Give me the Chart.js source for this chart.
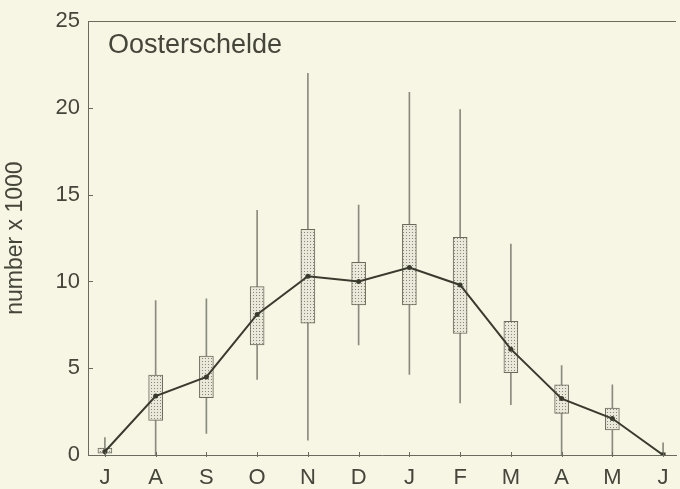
<!DOCTYPE html>
<html>
<head>
<meta charset="utf-8">
<script src="https://cdn.jsdelivr.net/npm/chart.js@4.4.0/dist/chart.umd.min.js"></script>
<style>
  html, body { margin: 0; padding: 0; background: #f7f6e5; }
  #wrap { width: 680px; height: 489px; }
</style>
</head>
<body>
<div id="wrap"><canvas id="c" width="680" height="489"></canvas></div>
<script>
// ---- data ----
const months    = ['J','A','S','O','N','D','J','F','M','A','M','J'];
const meanVals  = [0.2, 3.4, 4.5, 8.1, 10.3, 10.0, 10.8, 9.8, 6.1, 3.25, 2.1, 0];
const boxLow    = [0.1, 2.0, 3.3, 6.35, 7.6, 8.65, 8.65, 7.0, 4.75, 2.4, 1.45, null];
const boxHigh   = [0.4, 4.6, 5.7, 9.7, 13.0, 11.1, 13.3, 12.55, 7.7, 4.05, 2.7, null];
const whiskLow  = [0, 0, 1.25, 4.35, 0.85, 6.35, 4.65, 3.0, 2.9, 0, 0, 0];
const whiskHigh = [1.0, 8.9, 9.0, 14.1, 22.0, 14.4, 20.9, 19.9, 12.15, 5.15, 4.05, 0.7];
const yTicks    = [0, 5, 10, 15, 20, 25];
const titleText = 'Oosterschelde';
const yLabel    = 'number x 1000';

const ink = '#45453a';
const axisCol = '#6a6a5e';
const FONT = "'Liberation Sans', Arial, Helvetica, sans-serif";

// stipple pattern for boxes (square grid of fine dots)
const pc = document.createElement('canvas');
pc.width = 3; pc.height = 3;
const px = pc.getContext('2d');
px.fillStyle = '#e9e8d9'; px.fillRect(0, 0, 3, 3);
px.fillStyle = '#86867a'; px.fillRect(1, 1, 1, 1);
const stipple = px.createPattern(pc, 'repeat');

const boxData = months.map((m, i) => boxLow[i] == null ? {x: i, y: null} : {x: i, y: [boxLow[i], boxHigh[i]]});
const whiskData = months.map((m, i) => ({x: i, y: [whiskLow[i], whiskHigh[i]]}));
const lineData = months.map((m, i) => ({x: i, y: meanVals[i]}));

const decor = {
  id: 'decor',
  beforeDraw(chart) {
    const c = chart.ctx;
    c.save();
    c.fillStyle = '#f7f6e5';
    c.fillRect(0, 0, chart.width, chart.height);
    c.restore();
  },
  afterDraw(chart) {
    const c = chart.ctx, a = chart.chartArea;
    const xs = chart.scales.x, ys = chart.scales.y;
    c.save();
    c.strokeStyle = axisCol;
    c.lineWidth = 1;
    // top frame line
    c.beginPath();
    c.moveTo(a.left, Math.round(a.top) + 0.5);
    c.lineTo(a.right, Math.round(a.top) + 0.5);
    c.stroke();
    // inward y ticks
    yTicks.forEach(v => {
      const y = Math.round(ys.getPixelForValue(v)) + 0.5;
      c.beginPath(); c.moveTo(a.left, y); c.lineTo(a.left + 5, y); c.stroke();
    });
    // x ticks
    months.forEach((m, i) => {
      const x = Math.round(xs.getPixelForValue(i)) + 0.5;
      c.beginPath(); c.moveTo(x, a.bottom - 3); c.lineTo(x, a.bottom + 2); c.stroke();
    });
    // title text
    c.fillStyle = ink;
    c.font = '27px ' + FONT;
    c.textBaseline = 'middle';
    c.textAlign = 'left';
    c.fillText(titleText, 108, 46);
    c.restore();
  }
};

new Chart(document.getElementById('c'), {
  type: 'bar',
  data: {
    datasets: [
      {
        type: 'line', data: lineData, order: 0,
        borderColor: '#3a3a2e', borderWidth: 2,
        pointRadius: months.map((m, i) => i === months.length - 1 ? 3.5 : 2.5),
        pointStyle: months.map((m, i) => i === months.length - 1 ? 'rect' : 'circle'),
        pointBackgroundColor: '#3a3a2e', pointBorderColor: '#3a3a2e', pointBorderWidth: 0,
        tension: 0
      },
      {
        type: 'bar', data: boxData, order: 1, grouped: false,
        backgroundColor: stipple, borderColor: '#6a6a5c', borderWidth: 1,
        borderSkipped: false, barThickness: 14
      },
      {
        type: 'bar', data: whiskData, order: 2, grouped: false,
        backgroundColor: '#8a8a7e', borderWidth: 0, barThickness: 1
      }
    ]
  },
  options: {
    responsive: false,
    animation: false,
    events: [],
    layout: { padding: { top: 17, right: 0, bottom: 0, left: 0 } },
    plugins: { legend: { display: false }, tooltip: { enabled: false } },
    scales: {
      x: {
        type: 'linear', offset: false,
        min: -0.333, max: 11.254,
        afterBuildTicks(s) { s.ticks = months.map((m, i) => ({ value: i })); },
        afterFit(s) { s.height = 34; },
        grid: { display: false, drawTicks: false },
        border: { display: true, color: axisCol, width: 1 },
        ticks: {
          autoSkip: false, maxRotation: 0, padding: 10,
          color: ink, font: { family: FONT, size: 22 },
          callback: (v) => months[Math.round(v)]
        }
      },
      y: {
        min: 0, max: 25,
        afterBuildTicks(s) { s.ticks = yTicks.map(v => ({ value: v })); },
        afterFit(s) { s.width = 88; },
        grid: { display: false, drawTicks: false },
        border: { display: true, color: axisCol, width: 1 },
        ticks: { padding: 8, color: ink, font: { family: FONT, size: 22 } },
        title: {
          display: true, text: yLabel, color: ink,
          font: { family: FONT, size: 23 }, padding: { top: 2, bottom: 0 }
        }
      }
    }
  },
  plugins: [decor]
});
</script>
</body>
</html>
